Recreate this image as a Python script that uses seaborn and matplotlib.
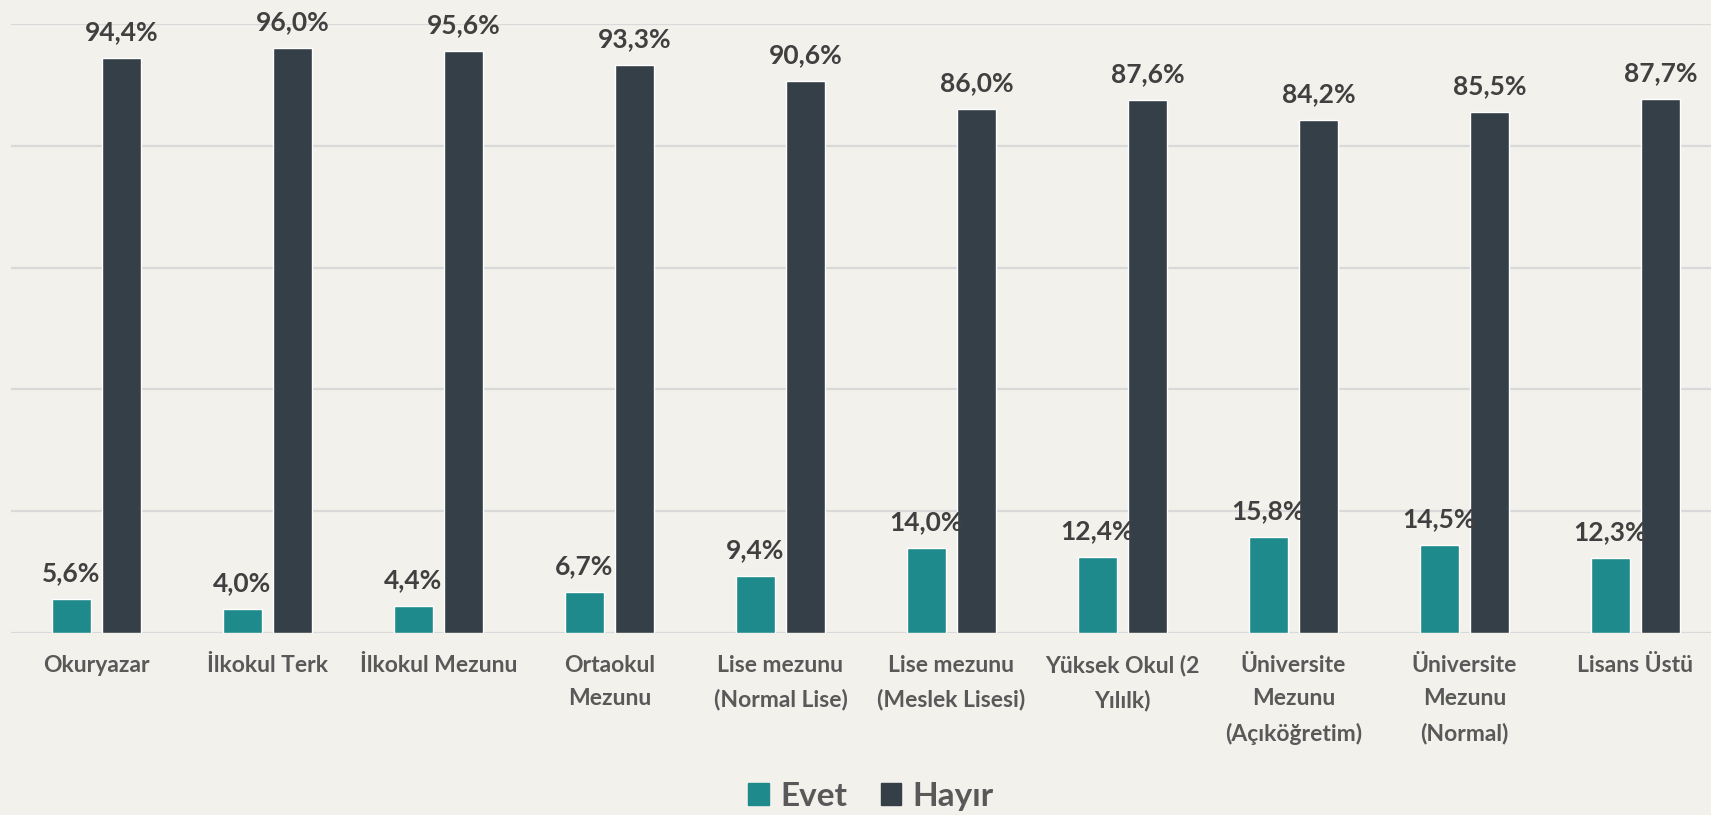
import pandas as pd
import matplotlib.pyplot as plt
import seaborn as sns

# Education level vs. answer share (%)
categories = [
    "Okuryazar", "İlkokul Terk", "İlkokul Mezunu", "Ortaokul\nMezunu",
    "Lise mezunu\n(Normal Lise)", "Lise mezunu\n(Meslek Lisesi)",
    "Yüksek Okul (2\nYılılk)", "Üniversite\nMezunu\n(Açıköğretim)",
    "Üniversite\nMezunu\n(Normal)", "Lisans Üstü",
]
evet = [5.6, 4.0, 4.4, 6.7, 9.4, 14.0, 12.4, 15.8, 14.5, 12.3]
hayir = [94.4, 96.0, 95.6, 93.3, 90.6, 86.0, 87.6, 84.2, 85.5, 87.7]
series = ["Evet", "Hayır"]
colors = ["#1e8a8b", "#343f48"]

df = pd.DataFrame({
    "Kategori": categories * 2,
    "Seri": [series[0]] * len(evet) + [series[1]] * len(hayir),
    "Deger": evet + hayir,
})

sns.set_style("white")
plt.rcParams["font.family"] = ["Lato", "DejaVu Sans"]

bg = "#f3f1ec"
fig = plt.figure(figsize=(17.11, 8.15), dpi=100, facecolor=bg)
ax = fig.add_axes([0.0064, 0.2233, 0.9994, 0.7472])
ax.set_facecolor("none")

sns.barplot(
    data=df, x="Kategori", y="Deger", hue="Seri",
    hue_order=series, palette=colors, order=categories,
    width=0.585, gap=0.22, saturation=1, legend=False, ax=ax,
)

# value labels
for cont, vals in zip(ax.containers, [evet, hayir]):
    ax.bar_label(
        cont, labels=[f"{v:.1f}%".replace(".", ",") for v in vals],
        padding=10, fontsize=19, fontweight="bold", color="#404040",
        clip_on=False,
    )

ax.set_ylim(0, 100)
ax.set_yticks(range(0, 101, 20))
ax.yaxis.grid(True, color="#d9d9d9", linewidth=1.6)
ax.set_axisbelow(True)
ax.tick_params(axis="y", left=False, labelleft=False)
ax.tick_params(axis="x", bottom=False, pad=12, labelsize=16.5,
               labelcolor="#595959")
for lbl in ax.get_xticklabels():
    lbl.set_fontweight("bold")
    lbl.set_linespacing(1.75)
ax.set_xlabel("")
ax.set_ylabel("")
sns.despine(ax=ax, left=True, bottom=True)

handles = [plt.Rectangle((0, 0), 1, 1, color=c) for c in colors]
leg = fig.legend(
    handles, series, loc="center", bbox_to_anchor=(0.509, 0.023),
    ncol=2, frameon=False, handlelength=0.62,
    handleheight=0.62, handletextpad=0.35, columnspacing=1.0,
    prop={"weight": "bold", "size": 24},
)
for t in leg.get_texts():
    t.set_color("#595959")

plt.savefig("out.png", dpi=100, facecolor=bg)
